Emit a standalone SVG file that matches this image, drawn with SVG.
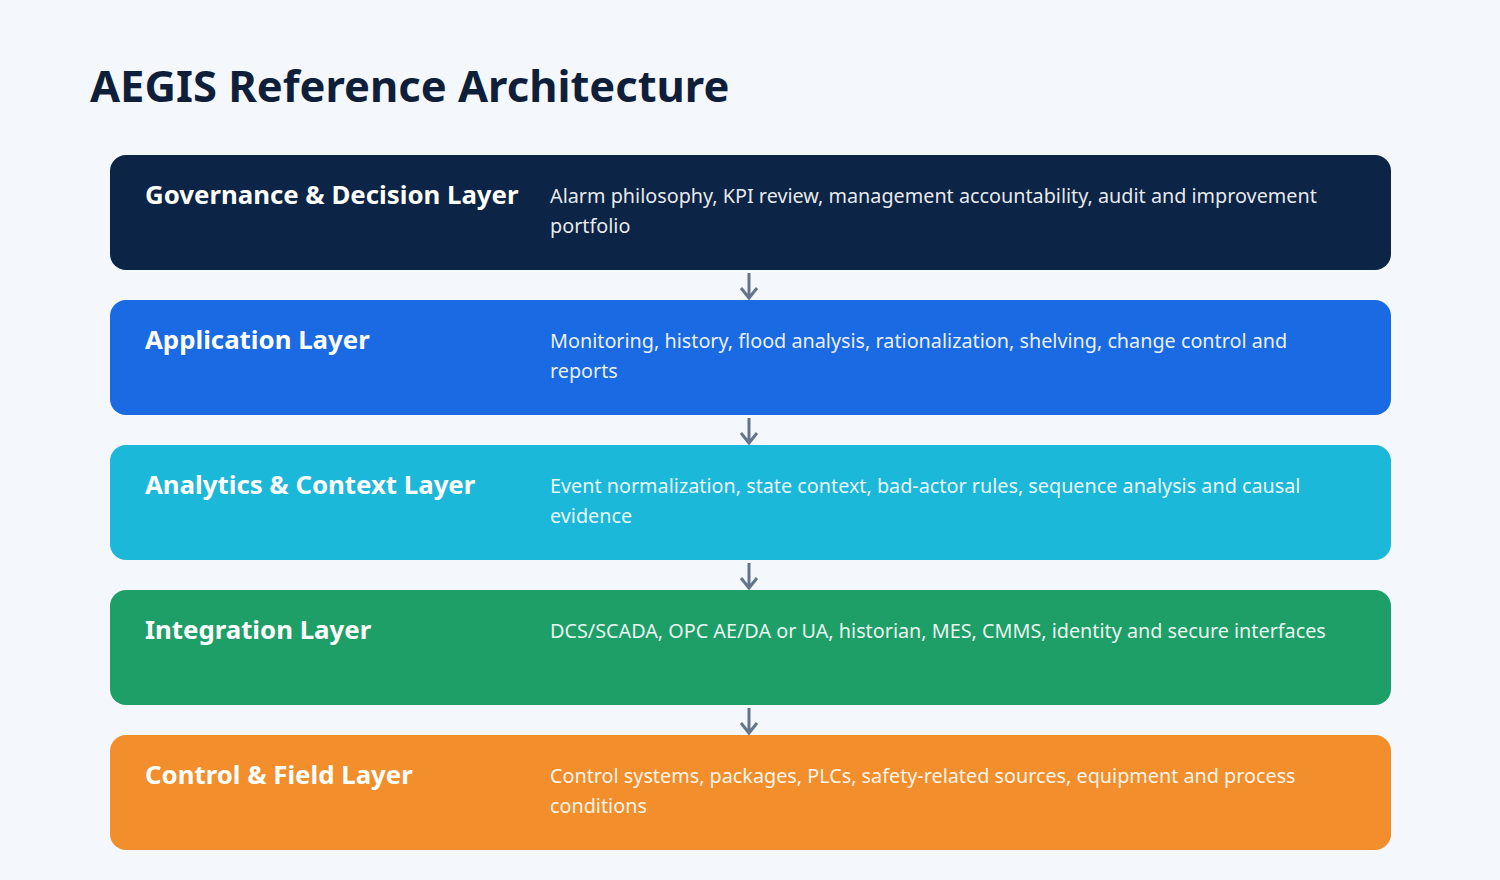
<svg xmlns="http://www.w3.org/2000/svg" width="1500" height="880" viewBox="0 0 1500 880">
<defs>
<style>
.title{font-family:"Noto Sans","Open Sans",sans-serif;font-weight:700;font-size:43.5px;fill:#0f1f3a}
.lt{font-family:"Noto Sans","Open Sans",sans-serif;font-weight:700;font-size:25.8px;fill:#ffffff}
.ld{font-family:"Noto Sans","Open Sans",sans-serif;font-size:19.8px;fill:#ffffff;fill-opacity:0.92}
.conn{stroke:#64748b;stroke-width:3;fill:none}
</style>
</defs>
<rect width="1500" height="880" fill="#f4f8fc"/>
<text class="title" x="90" y="102">AEGIS Reference Architecture</text>
<g id="governance">
<rect x="110" y="155" width="1281" height="115" rx="16" fill="#0c2445"/>
<text class="lt" x="145" y="204">Governance &amp; Decision Layer</text>
<text class="ld" x="550" y="203">Alarm philosophy, KPI review, management accountability, audit and improvement</text>
<text class="ld" x="550" y="233">portfolio</text>
</g>
<g id="application">
<rect x="110" y="300" width="1281" height="115" rx="16" fill="#1a6ae3"/>
<text class="lt" x="145" y="349">Application Layer</text>
<text class="ld" x="550" y="348">Monitoring, history, flood analysis, rationalization, shelving, change control and</text>
<text class="ld" x="550" y="378">reports</text>
</g>
<g id="analytics">
<rect x="110" y="445" width="1281" height="115" rx="16" fill="#1cb8d9"/>
<text class="lt" x="145" y="494">Analytics &amp; Context Layer</text>
<text class="ld" x="550" y="493">Event normalization, state context, bad-actor rules, sequence analysis and causal</text>
<text class="ld" x="550" y="523">evidence</text>
</g>
<g id="integration">
<rect x="110" y="590" width="1281" height="115" rx="16" fill="#1f9f68"/>
<text class="lt" x="145" y="639">Integration Layer</text>
<text class="ld" x="550" y="638">DCS/SCADA, OPC AE/DA or UA, historian, MES, CMMS, identity and secure interfaces</text>
</g>
<g id="control">
<rect x="110" y="735" width="1281" height="115" rx="16" fill="#f28f2c"/>
<text class="lt" x="145" y="784">Control &amp; Field Layer</text>
<text class="ld" x="550" y="783">Control systems, packages, PLCs, safety-related sources, equipment and process</text>
<text class="ld" x="550" y="813">conditions</text>
</g>
<g id="connectors">
<path class="conn" d="M749 273 V298 M741 288 L749 298 L757 288"/>
<path class="conn" d="M749 418 V443 M741 433 L749 443 L757 433"/>
<path class="conn" d="M749 563 V588 M741 578 L749 588 L757 578"/>
<path class="conn" d="M749 708 V733 M741 723 L749 733 L757 723"/>
</g>
</svg>
